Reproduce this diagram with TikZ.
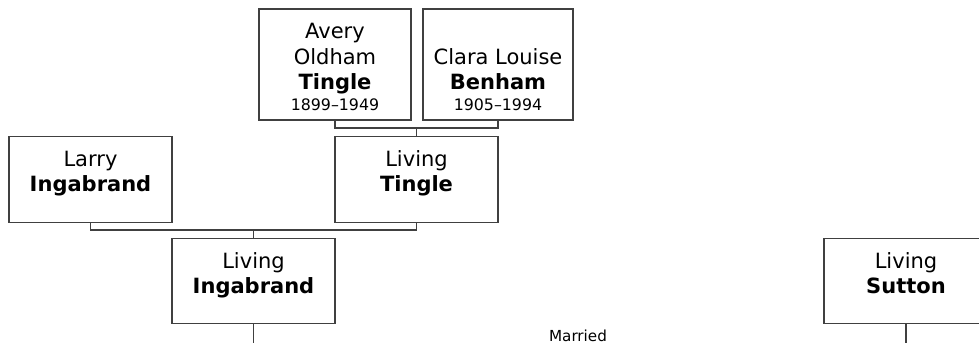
\documentclass[tikz,border=0pt]{standalone}
\usepackage{fontspec}
\setmainfont{DejaVu Sans}
\newcommand{\famcard}[3]{\parbox[t][#2pt][t]{#1pt}{\centering\fontsize{21}{25.6}\selectfont\rule{0pt}{29.5pt}#3\par}}
\newcommand{\datefont}{\fontsize{15.8}{18}\selectfont}
\begin{document}
\begin{tikzpicture}[x=1pt,y=-1pt,
  card/.style={draw=black!75, line width=1.3pt, inner sep=0pt, fill=white},
  link/.style={draw=black!75, line width=1.3pt}]
\useasboundingbox (0,0) rectangle (979,343);
\clip (0,0) rectangle (979,343);
\node[card] (avery) at (335,64.5) {\famcard{152}{111}{Avery\\Oldham\\\textbf{Tingle}\\[-4.7pt]{\datefont 1899–1949}}};
\node[card] (clara) at (498,64.5) {\famcard{150}{111}{\\Clara Louise\\\textbf{Benham}\\[-4.7pt]{\datefont 1905–1994}}};
\node[card] (larry) at (90.5,179.8) {\famcard{163}{86}{Larry\\\textbf{Ingabrand}}};
\node[card] (tingle) at (416.5,179.8) {\famcard{163}{86}{Living\\\textbf{Tingle}}};
\node[card] (ingabrand) at (253.5,281) {\famcard{163}{85}{Living\\\textbf{Ingabrand}}};
\node[card] (sutton) at (906,281) {\famcard{164}{85}{Living\\\textbf{Sutton}}};
\coordinate (m1) at (416.5,128);
\coordinate (m2) at (253.5,230);
\coordinate (e1) at (253.5,343);
\coordinate (e2) at (906,343);
\draw[link] (avery.south) -- (avery.south |- m1) -- (clara.south |- m1) -- (clara.south);
\draw[link] (m1) -- (tingle.north);
\draw[link] (larry.south) -- (larry.south |- m2) -- (tingle.south |- m2) -- (tingle.south);
\draw[link] (m2) -- (ingabrand.north);
\draw[link] (ingabrand.south) -- (e1);
\draw[link] (sutton.south) -- (e2);
\node[anchor=base, inner sep=0pt, font=\fontsize{15.2}{18}\selectfont] (married) at (578,341) {Married};
\end{tikzpicture}
\end{document}
